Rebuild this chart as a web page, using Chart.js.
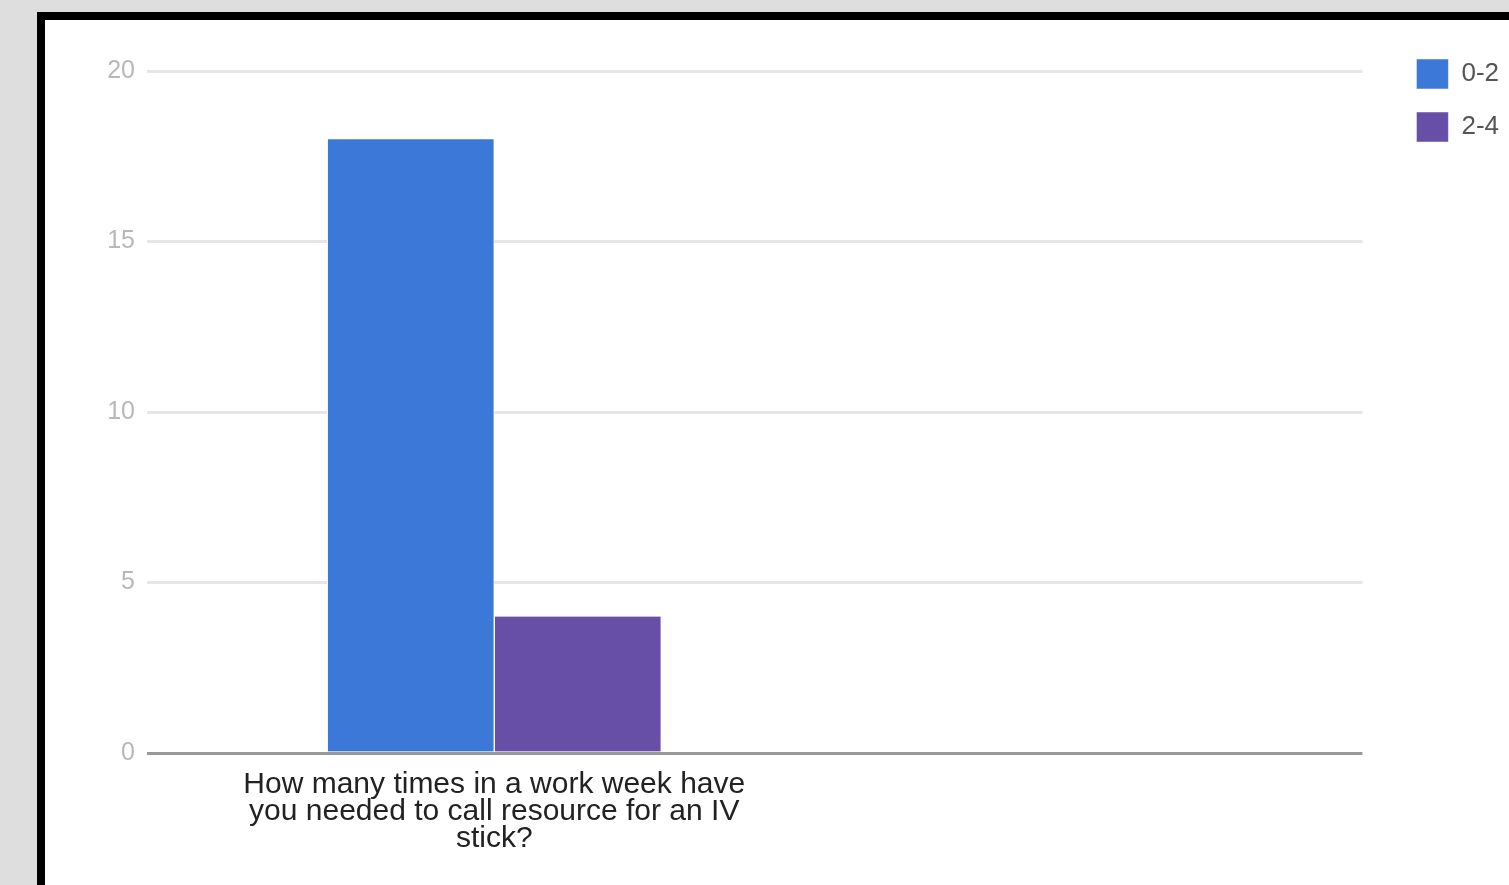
<!DOCTYPE html>
<html lang="en">
<head>
    <meta charset="UTF-8">
    <title>IV stick survey</title>
    <script src="https://cdn.jsdelivr.net/npm/chart.js"></script>
    <style>
        body {
            margin: 0;
            background: #dedede;
            overflow: hidden;
        }
        .frame {
            position: absolute;
            left: 37px;
            top: 12px;
            width: 1600px;
            height: 1000px;
            background: #fff;
            border-left: 8px solid #000;
            border-top: 8px solid #000;
        }
        .chart-box {
            position: absolute;
            left: 45px;
            top: 20px;
            width: 1464px;
            height: 865px;
        }
    </style>
</head>
<body>
    <div class="frame"></div>
    <div class="chart-box">
        <canvas id="surveyChart"></canvas>
    </div>

    <script>
        // data
        const categories = [
            ['How many times in a work week have', 'you needed to call resource for an IV', 'stick?']
        ];
        const seriesNames = ['0-2', '2-4'];
        const seriesColors = ['#3c78d8', '#674ea7'];
        const series0to2 = [18];
        const series2to4 = [4];
        const yTicks = [0, 5, 10, 15, 20];

        const FONT = '"Liberation Sans", Arial, sans-serif';

        const toPoints = vals => vals.map((v, i) => ({ x: i, y: v }));

        new Chart(document.getElementById('surveyChart'), {
            type: 'bar',
            data: {
                datasets: [
                    {
                        label: seriesNames[0],
                        data: toPoints(series0to2),
                        backgroundColor: seriesColors[0],
                        borderColor: '#ffffff',
                        borderWidth: { left: 1, right: 1, top: 0, bottom: 0 },
                        barThickness: 167
                    },
                    {
                        label: seriesNames[1],
                        data: toPoints(series2to4),
                        backgroundColor: seriesColors[1],
                        borderColor: '#ffffff',
                        borderWidth: { left: 1, right: 1, top: 0, bottom: 0 },
                        barThickness: 167
                    }
                ]
            },
            options: {
                responsive: true,
                maintainAspectRatio: false,
                animation: false,
                layout: { padding: { top: 16, left: 0, right: 0, bottom: 0 } },
                scales: {
                    x: {
                        type: 'linear',
                        min: -0.5,
                        max: 1.25,
                        offset: false,
                        grid: { display: false },
                        border: { display: false },
                        afterBuildTicks: s => {
                            s.ticks = categories.map((c, i) => ({ value: i }));
                        },
                        afterFit: s => { s.height = 132; },
                        ticks: {
                            maxRotation: 0,
                            autoSkip: false,
                            padding: 10,
                            color: '#222',
                            font: { family: FONT, size: 30, lineHeight: 0.9 },
                            callback: v => categories[v]
                        }
                    },
                    y: {
                        min: 0,
                        max: 20,
                        afterBuildTicks: s => {
                            s.ticks = yTicks.map(v => ({ value: v }));
                        },
                        afterFit: s => {
                            s.width = 102;
                            s.paddingTop = 51;
                        },
                        grid: {
                            drawTicks: false,
                            color: c => c.tick.value === 0 ? '#999999' : '#e6e6e6',
                            lineWidth: 3
                        },
                        border: { display: false },
                        ticks: {
                            padding: 12,
                            color: '#b8b8b8',
                            font: { family: FONT, size: 25 }
                        }
                    },
                    // empty strip between plot and legend
                    gapR: {
                        type: 'linear',
                        position: 'right',
                        display: true,
                        grid: { display: false },
                        border: { display: false },
                        ticks: { display: false },
                        afterFit: s => { s.width = 31; }
                    }
                },
                plugins: {
                    tooltip: { enabled: false },
                    legend: {
                        position: 'right',
                        align: 'start',
                        labels: {
                            boxWidth: 32,
                            boxHeight: 30,
                            padding: 23,
                            color: '#555',
                            font: { family: FONT, size: 26 }
                        }
                    }
                }
            }
        });
    </script>
</body>
</html>
